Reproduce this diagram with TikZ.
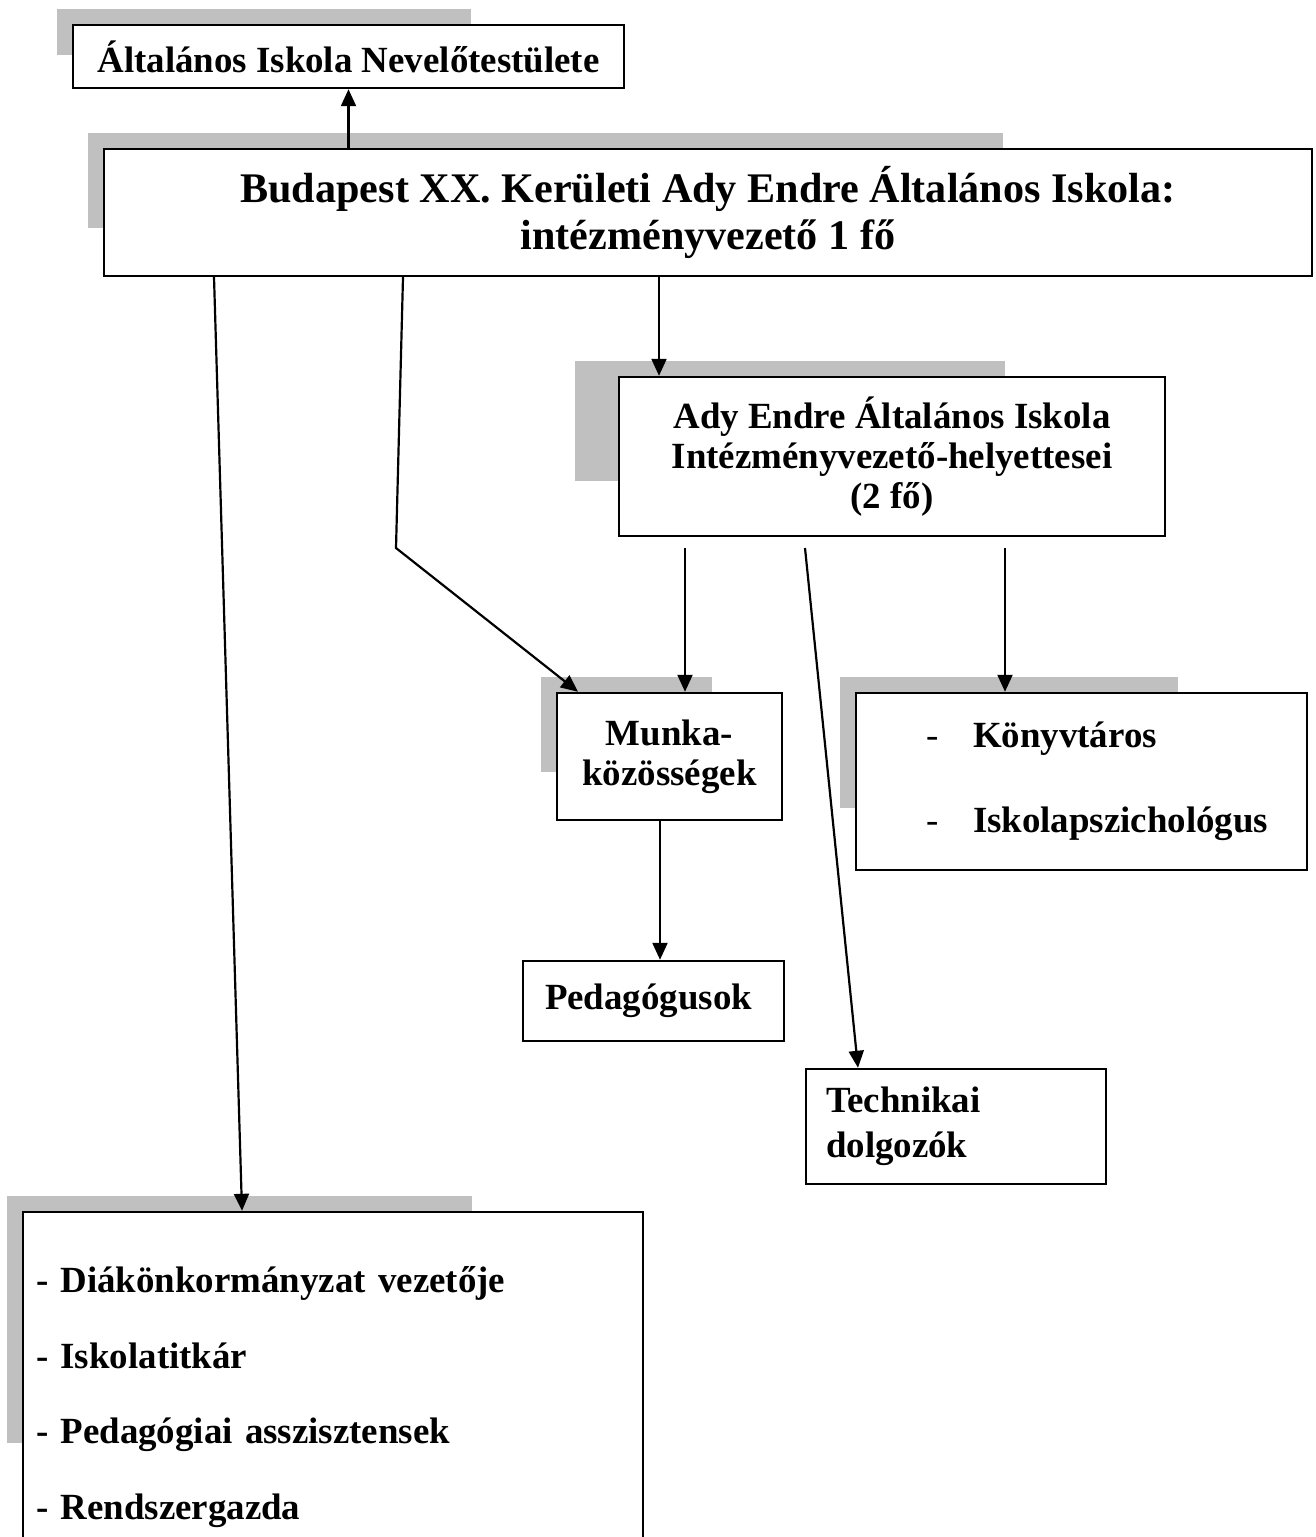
\documentclass[tikz,border=0pt]{standalone}
\usepackage{fontspec}
\setmainfont{Liberation Serif}
\usetikzlibrary{arrows.meta}
\definecolor{shadowgray}{RGB}{192,192,192}

\begin{document}
\begin{tikzpicture}[x=0.02cm,y=-0.02cm,>={Triangle[length=0.34cm,width=0.3cm]},
    box/.style={draw,fill=white,line width=1.4pt,inner sep=0pt},
    link/.style={->,line width=1.25pt},
    txt/.style={font=\bfseries\fontsize{21}{#1}\selectfont}]
    \clip (0,0) rectangle (1315,1537);
    % grey shadows behind the boxes
    \foreach \xa/\ya/\xb/\yb in {57/9/471/55,88/133/1003/228,575/361/1005/481,
        541/677/712/772,840/677/1178/808,7/1196/472/1443}
        \fill[shadowgray] (\xa,\ya) rectangle (\xb,\yb);

    \node[box,txt=24,minimum width=11.02cm,minimum height=1.26cm] (nevelo) at (348.5,56.5)
        {Általános Iskola Nevelőtestülete};
    \node[box,font=\bfseries\fontsize{24}{26.5}\selectfont,align=center,minimum width=24.16cm,minimum height=2.54cm] (vezeto) at (708,212.5)
        {Budapest XX. Kerületi Ady Endre Általános Iskola:\\ intézményvezető 1 fő};
    \node[box,txt=22.8,align=center,minimum width=10.92cm,minimum height=3.18cm] (helyettes) at (892,456.5)
        {Ady Endre Általános Iskola\\ Intézményvezető-helyettesei\\ (2 fő)};
    \node[box,txt=22.6,align=center,minimum width=4.5cm,minimum height=2.54cm] (munka) at (669.5,756.5)
        {Munka-\\ közösségek};
    \node[box,txt=48.4,align=left,text width=9.02cm,minimum height=3.54cm] (konyv) at (1081.5,781.5)
        {\hspace*{1.4cm}\makebox[0.94cm][l]{\mdseries -}Könyvtáros\\
         \hspace*{1.4cm}\makebox[0.94cm][l]{\mdseries -}Iskolapszichológus};
    \node[box,txt=24,align=left,text width=4.34cm,inner xsep=0.44cm,minimum height=1.6cm] (ped) at (653.5,1001)
        {Pedagógusok};
    \node[box,txt=25.5,align=left,text width=5.2cm,inner xsep=0.4cm,minimum height=2.3cm] (tech) at (956,1126.5)
        {Technikai\\ dolgozók};
    \node[box,txt=43.2,align=left,text width=11.88cm,inner xsep=0.26cm,minimum height=7.4cm] (tovabbi) at (333,1397)
        {- Diákönkormányzat vezetője\\ - Iskolatitkár\\ - Pedagógiai asszisztensek\\ - Rendszergazda};

    \coordinate (tores) at (396,548);
    \coordinate (h1) at (685,548);
    \coordinate (h2) at (805,548);
    \coordinate (h3) at (1005,548);

    \draw[link] (nevelo.south |- vezeto.north) -- (nevelo.south);
    \draw[link] (vezeto.south -| 659,0) -- (helyettes.north -| 659,0);
    \draw[link] (vezeto.south -| 403,0) -- (tores) -- (munka.north -| 578,0);
    \draw[link] (vezeto.south -| 214,0) -- (tovabbi.north -| 242,0);
    \draw[link] (h1) -- (munka.north -| h1);
    \draw[link] (h2) -- (tech.north -| 858,0);
    \draw[link] (h3) -- (konyv.north -| h3);
    \draw[link] (munka.south -| 660,0) -- (ped.north -| 660,0);
\end{tikzpicture}
\end{document}
